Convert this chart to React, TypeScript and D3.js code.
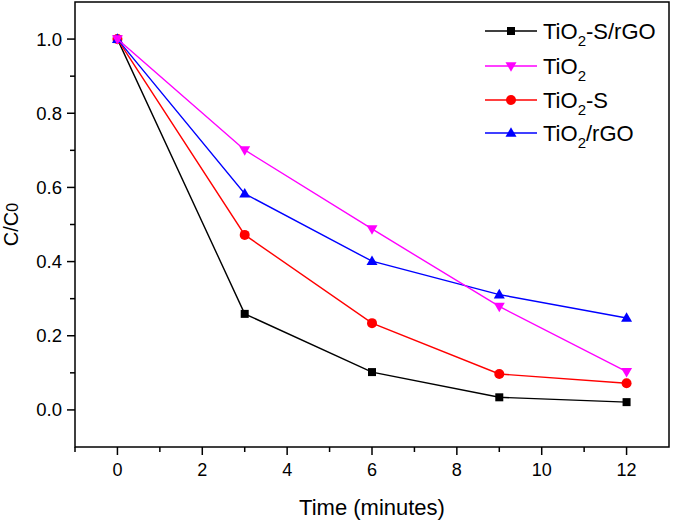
import React from "react";
import * as d3 from "d3";

const times = [0, 3, 6, 9, 12];
const seriesNames = ["TiO2-S/rGO", "TiO2", "TiO2-S", "TiO2/rGO"];
const tio2SrGO = [1.0, 0.259, 0.102, 0.034, 0.021];
const tio2 = [1.0, 0.701, 0.488, 0.279, 0.103];
const tio2S = [1.0, 0.472, 0.234, 0.097, 0.072];
const tio2rGO = [1.0, 0.583, 0.401, 0.311, 0.248];
const xTicks = [0, 2, 4, 6, 8, 10, 12];
const yTicks = [0.0, 0.2, 0.4, 0.6, 0.8, 1.0];

const W = 675, H = 521;
const FONT = "'Liberation Sans', Arial, sans-serif";

type Shape = "square" | "down" | "circle" | "up";
const series: { name: string; values: number[]; color: string; shape: Shape }[] = [
  { name: seriesNames[0], values: tio2SrGO, color: "#000000", shape: "square" },
  { name: seriesNames[1], values: tio2, color: "#ff00ff", shape: "down" },
  { name: seriesNames[2], values: tio2S, color: "#ff0000", shape: "circle" },
  { name: seriesNames[3], values: tio2rGO, color: "#0000ff", shape: "up" },
];
const drawOrder = [0, 2, 3, 1];

function Marker({ x, y, shape, color }: { x: number; y: number; shape: Shape; color: string }) {
  if (shape === "square") return <rect x={x - 4} y={y - 4} width={8} height={8} fill={color} />;
  if (shape === "circle") return <circle cx={x} cy={y} r={5} fill={color} />;
  const s = 11, h = s * 0.866;
  if (shape === "up")
    return <polygon points={`${x},${y - h * 0.6} ${x - s / 2},${y + h * 0.4} ${x + s / 2},${y + h * 0.4}`} fill={color} />;
  return <polygon points={`${x},${y + h * 0.6} ${x - s / 2},${y - h * 0.4} ${x + s / 2},${y - h * 0.4}`} fill={color} />;
}

function Label({ name }: { name: string }) {
  const idx = name.indexOf("TiO2");
  const rest = name.slice(idx + 4);
  return (
    <>
      <tspan>TiO</tspan>
      <tspan fontSize={15} dy={7}>2</tspan>
      <tspan dy={-7}>{rest}</tspan>
    </>
  );
}

export default function App() {
  const x = d3.scaleLinear().domain([-1, 13]).range([75, 669]);
  const y = d3.scaleLinear().domain([-0.1, 1.1]).range([447, 2]);
  const line = d3.line<number>().x((_, i) => x(times[i])).y((d) => y(d));
  const xMinor = d3.range(-1, 14, 1).filter((v) => v % 2 !== 0 && v > -1 && v < 13);
  const yMinor = d3.range(-1, 11, 1).map((v) => v / 10).filter((v) => Math.round(v * 10) % 2 !== 0 && v > -0.1);
  const legendY = [31, 66, 100, 133];

  return (
    <svg width={W} height={H} style={{ position: "absolute", left: 0, top: 0, background: "#fff" }} fontFamily={FONT}>
      <rect x={0} y={0} width={W} height={H} fill="#fff" />
      <rect x={x(-1)} y={y(1.1)} width={x(13) - x(-1)} height={y(-0.1) - y(1.1)} fill="none" stroke="#000" strokeWidth={1.5} />
      {xTicks.map((t) => (
        <g key={"xt" + t}>
          <line x1={x(t)} x2={x(t)} y1={y(-0.1)} y2={y(-0.1) + 8} stroke="#000" strokeWidth={1.5} />
          <text x={x(t)} y={y(-0.1) + 29} textAnchor="middle" fontSize={18}>{t}</text>
        </g>
      ))}
      {xMinor.map((t) => (
        <line key={"xm" + t} x1={x(t)} x2={x(t)} y1={y(-0.1)} y2={y(-0.1) + 5} stroke="#000" strokeWidth={1.5} />
      ))}
      <line x1={x(-1)} x2={x(-1)} y1={y(-0.1)} y2={y(-0.1) + 5} stroke="#000" strokeWidth={1.5} />
      {yTicks.map((t) => (
        <g key={"yt" + t}>
          <line x1={x(-1) - 8} x2={x(-1)} y1={y(t)} y2={y(t)} stroke="#000" strokeWidth={1.5} />
          <text x={x(-1) - 13} y={y(t)} dy="0.35em" textAnchor="end" fontSize={18.5}>{t.toFixed(1)}</text>
        </g>
      ))}
      {yMinor.map((t) => (
        <line key={"ym" + t} x1={x(-1) - 5} x2={x(-1)} y1={y(t)} y2={y(t)} stroke="#000" strokeWidth={1.5} />
      ))}
      <text x={(x(-1) + x(13)) / 2} y={515} textAnchor="middle" fontSize={22}>Time (minutes)</text>
      <text transform={`translate(18, ${(y(-0.1) + y(1.1)) / 2}) rotate(-90)`} textAnchor="middle" fontSize={20}>
        C/C<tspan fontSize={16}>0</tspan>
      </text>
      {drawOrder.map((si) => {
        const s = series[si];
        return (
          <g key={s.name}>
            <path d={line(s.values) || ""} fill="none" stroke={s.color} strokeWidth={1.4} />
            {s.values.map((v, i) => (
              <Marker key={i} x={x(times[i])} y={y(v)} shape={s.shape} color={s.color} />
            ))}
          </g>
        );
      })}
      {series.map((s, i) => (
        <g key={"lg" + s.name}>
          <line x1={485} x2={537} y1={legendY[i]} y2={legendY[i]} stroke={s.color} strokeWidth={1.4} />
          <Marker x={511} y={legendY[i]} shape={s.shape} color={s.color} />
          <text x={543} y={legendY[i]} dy="0.36em" fontSize={22}>
            <Label name={s.name} />
          </text>
        </g>
      ))}
    </svg>
  );
}
